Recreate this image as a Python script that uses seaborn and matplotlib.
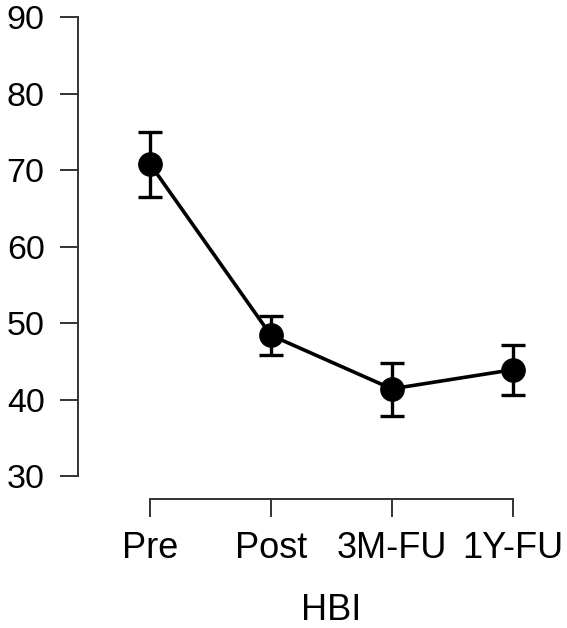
import numpy as np
import pandas as pd
import matplotlib
matplotlib.use('Agg')
import matplotlib.pyplot as plt
import seaborn as sns

# values
timepoints = ['Pre', 'Post', '3M-FU', '1Y-FU']
means = [70.8, 48.4, 41.4, 43.9]
upper = [75.0, 50.9, 44.8, 47.1]
lower = [66.5, 45.8, 37.8, 40.6]

df = pd.DataFrame({'time': timepoints, 'mean': means})
df['x'] = np.arange(len(timepoints))

sns.set_style('white')
plt.rcParams['font.family'] = ['Liberation Sans', 'DejaVu Sans']

fig = plt.figure(figsize=(5.67, 6.28), dpi=100)
ax = fig.add_axes([0.1376, 0.2054, 0.850, 0.7675])

sns.lineplot(data=df, x='x', y='mean', color='black', linewidth=2.6,
             marker='o', markersize=17, markeredgecolor='black', ax=ax, zorder=3)

err = [np.array(means) - np.array(lower), np.array(upper) - np.array(means)]
ax.errorbar(df['x'], means, yerr=err, fmt='none', ecolor='black',
            elinewidth=2.4, capsize=8.6, capthick=2.4, zorder=2)

xlim = (-0.595, 3.39)
ax.set_xlim(*xlim)
ax.set_ylim(27, 90)
ax.set_yticks([30, 40, 50, 60, 70, 80, 90])
ax.set_xticks(df['x'])
ax.set_xticklabels(timepoints)

sns.despine(ax=ax)
ax.spines['left'].set_bounds(30, 90)
ax.spines['bottom'].set_bounds(0, 3)
for s in ['left', 'bottom']:
    ax.spines[s].set_color('#333333')
    ax.spines[s].set_linewidth(1.4)

ax.tick_params(axis='both', direction='out', length=13, width=1.4,
               color='#333333', labelcolor='black')
ax.tick_params(axis='y', pad=11, left=True, labelsize=24.5)
ax.tick_params(axis='x', pad=10, bottom=True, labelsize=26)

ax.set_ylabel('')
ax.set_xlabel('HBI', fontsize=26, color='black')
ax.xaxis.set_label_coords((1.5 - xlim[0]) / (xlim[1] - xlim[0]), -0.232)
ax.xaxis.label.set_va('center')

plt.savefig('out.png', dpi=100)
